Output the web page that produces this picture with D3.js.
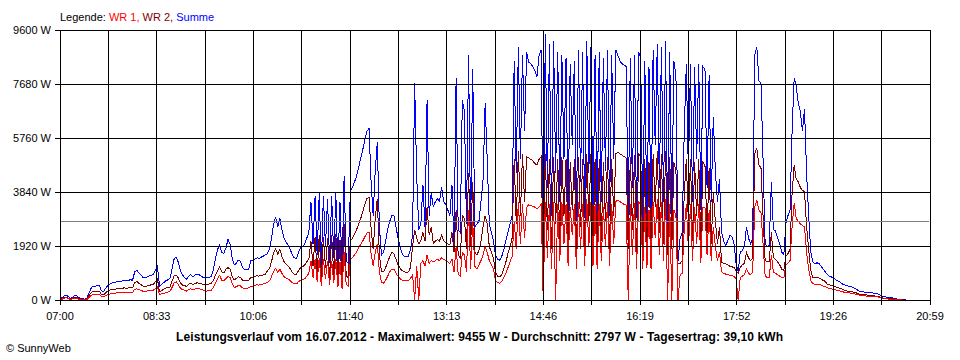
<!DOCTYPE html>
<html><head><meta charset="utf-8">
<script src="https://cdn.jsdelivr.net/npm/d3@7"></script>
<style>
html,body{margin:0;padding:0;background:#fff;}
svg{display:block;font-family:"Liberation Sans",Arial,sans-serif;}
</style></head><body>
<svg id="chart" width="960" height="360"></svg>
<script>
// ---------- DATA ----------
const startTime = "07:00";
const endTime = "20:59";
const sampleStepMinutes = 2;   // one reading every 2 minutes from 07:00

const summe = [
40,80,150,180,120,60,90,170,150,80,
60,40,30,60,250,420,500,480,520,500,
330,290,420,500,560,600,620,640,660,650,
680,700,680,700,720,700,1000,1060,960,900,
800,780,820,850,880,900,1050,1200,480,560,
620,680,720,760,1100,1450,1530,1350,1050,900,
800,730,850,900,820,880,920,900,850,800,
780,790,800,850,1100,1500,1800,1950,1700,1650,
1850,2150,2000,1500,1250,1300,1420,1380,1150,1080,
1070,1100,1400,1420,1450,1500,1480,1520,1560,1600,
1650,1800,2200,2700,2950,2600,2900,2500,2200,2050,
1950,1800,1600,1500,1480,1700,1850,1900,2000,2200,
2400,3500,2000,3700,1600,3800,1200,3700,1900,3600,
1300,3700,1500,3800,1100,3500,1000,4400,1400,1300,
3900,4000,4200,4400,4700,5050,5350,5700,6000,6100,
4200,3000,4600,5600,2600,1600,1700,2100,2500,2800,
3000,3000,2600,2200,1900,1650,1550,1540,1560,1800,
2300,7700,4400,2500,2700,4100,2600,7100,3000,3800,
3300,3500,3600,3500,4000,3500,3400,3200,3000,4100,
1950,7900,2500,2400,7100,6700,2700,8700,2500,8200,
2600,2700,2800,3500,4300,7000,5000,2700,2400,2100,
1600,1450,1420,1550,1800,2100,2400,2700,3000,8500,
4500,9000,5000,8700,6000,8800,8450,8400,8300,8150,
7950,8700,8900,1600,9450,4000,9100,3000,9200,4500,
8800,3500,8700,5000,8600,3000,8400,5500,8500,2800,
8900,4200,8800,2900,9200,4500,9000,3000,8700,2700,
8800,3500,8600,4600,8900,3000,8700,5000,8900,8700,
8500,8400,8350,8300,3000,8600,4000,8700,2900,8800,
8600,2700,8500,2600,8300,2700,8900,5500,9100,4000,
9000,3500,9200,2500,8800,3000,8500,8000,1400,2200,
2400,6000,8400,4500,8400,3500,8300,5000,8400,3200,
8300,8200,4000,8000,3500,6500,4600,3500,4300,2400,
2100,1950,2100,2300,2250,2000,1300,1000,1700,1750,
1900,2600,2200,2000,2200,8700,9000,7800,7700,5000,
2000,1900,1950,4200,2500,2450,2200,2000,1700,1600,
2700,3000,3200,6000,7900,7600,7000,6700,6000,6800,
4500,3000,1700,1350,1300,1320,1300,1200,1100,1000,
900,850,820,780,720,680,640,580,540,520,
500,480,460,420,380,330,300,290,280,280,
270,260,250,240,230,200,150,120,110,100,
90,80,60,40,30,20,15,5,0,0
];

const wr1 = [
15,30,60,80,50,25,40,70,60,30,
20,15,10,20,90,160,190,180,200,190,
130,110,160,190,210,230,240,250,250,250,
260,270,260,270,280,270,380,400,370,350,
310,300,320,330,340,350,400,460,190,220,
240,260,280,300,440,600,650,560,430,370,
350,320,370,400,370,390,410,400,380,360,
320,320,330,350,450,620,760,880,700,680,
760,830,800,600,450,470,520,500,430,410,
420,430,480,500,520,540,530,550,570,600,
620,680,830,1020,1130,980,1100,950,830,780,
750,690,620,580,570,650,700,720,760,840,
950,1400,800,1450,650,1500,500,1450,750,1400,
550,1400,600,1450,450,1350,400,1700,550,500,
1450,1500,1600,1700,1850,1980,2100,2250,2380,2420,
1650,1200,1700,2000,1000,620,600,700,850,1000,
1100,1100,950,850,760,700,680,680,690,760,
900,0,1200,0,1300,1400,1200,1600,1300,1400,
1350,1400,1450,1400,1500,1450,1400,1350,1300,1450,
1000,1900,900,850,1700,1600,1000,3200,1100,2800,
1200,1100,1250,1400,1600,1900,1700,1400,1250,1100,
700,620,600,650,800,950,1150,1350,1550,2800,
1800,3500,2000,3400,2200,3300,3380,3350,3330,3300,
3250,3300,3400,0,3500,1500,3400,1100,3500,0,
3400,1400,3500,2000,3400,1200,3300,2300,3400,1100,
3500,1800,3400,1200,3600,1900,3500,1200,3400,1100,
3400,1400,3300,1900,3500,1200,3400,2000,3500,3550,
3500,3450,3400,3380,0,3400,1600,3450,1100,3500,
3400,1100,3300,1150,3200,1100,3500,2200,3600,1600,
3500,1400,3600,0,3400,0,3200,3000,0,900,
950,2500,3400,1800,3400,1400,3300,2000,3400,1300,
3300,3300,1600,3200,1400,2600,1900,1400,1700,1000,
950,920,900,880,860,850,750,0,800,850,
900,1100,950,900,1000,3300,3550,3200,3100,2000,
850,800,800,1600,1000,950,900,850,800,780,
1250,1300,1400,2600,3450,2900,2800,2700,2650,2600,
1700,1100,700,580,560,570,560,530,500,470,
430,410,400,380,360,340,320,300,280,270,
260,250,240,220,200,180,160,150,150,140,
130,120,120,110,110,100,70,50,50,40,
30,30,20,15,10,5,0,0,0,0
];

const wr2 = [
25,50,90,100,70,35,50,100,90,50,
40,25,20,40,160,260,310,300,320,310,
200,180,260,310,350,370,380,390,410,400,
420,430,420,430,440,430,620,660,590,550,
490,480,500,520,540,550,650,740,290,340,
380,420,440,460,660,850,880,790,620,530,
520,480,560,600,560,580,610,600,580,560,
550,560,570,600,700,900,1040,1170,1000,970,
1100,1150,1100,850,720,760,820,800,700,680,
680,700,800,820,840,860,850,870,890,920,
1030,1120,1370,1680,1820,1620,1800,1550,1370,1270,
1200,1110,980,920,910,1050,1150,1180,1240,1360,
1450,2100,1200,2250,950,2300,700,2250,1150,2200,
750,2300,900,2350,650,2150,600,2700,850,800,
2100,2200,2350,2500,2700,2900,3150,3400,3600,3650,
2550,1800,2900,3600,1600,1000,1000,1150,1350,1550,
1700,1650,1450,1250,1120,1050,1000,980,1000,1150,
1900,2500,2200,2000,2100,2400,2100,3300,2300,2600,
2000,2100,2150,2100,2300,2100,2050,2000,1950,2400,
1700,3200,1600,1500,3000,2900,1800,4500,1900,4200,
1700,1600,1750,2100,2600,3000,2700,1900,1700,1500,
1000,850,820,900,1100,1350,1650,1900,2200,5000,
2700,5300,3000,5200,3500,5100,5050,5000,4950,4850,
4800,5000,5100,1600,5200,2500,5000,1800,5100,2700,
5000,2100,5100,3000,5000,1800,4900,3200,5000,1700,
5100,2600,5000,1800,5200,2800,5200,1800,5000,1700,
5000,2100,4900,2800,5100,1800,5000,3000,5200,5250,
5200,5150,5100,5050,1800,5100,2500,5150,1700,5200,
5100,1600,5000,1550,4900,1650,5200,3300,5300,2400,
5200,2000,5300,1600,5100,1800,4900,4600,1300,1300,
1400,3800,5000,2700,5000,2100,4900,3000,5000,1900,
4900,4800,2400,4700,2000,3800,2800,2000,2600,1350,
1300,1280,1250,1200,1180,1150,1050,950,1150,1250,
1300,1700,1500,1400,1500,5200,5400,4800,4700,3000,
1400,1350,1380,2400,1500,1450,1350,1250,1100,1050,
1550,1650,1800,3800,4800,4300,4200,4000,3900,3850,
2600,1800,1050,800,780,790,780,740,700,660,
560,540,520,500,470,440,420,390,360,340,
310,300,290,270,250,220,200,190,180,180,
160,150,150,140,130,120,90,70,60,60,
50,45,35,25,20,10,5,0,0,0
];

const averageW = 2797;
const yTickValues = [0, 1920, 3840, 5760, 7680, 9600];
const yTickLabels = ["0 W", "1920 W", "3840 W", "5760 W", "7680 W", "9600 W"];
const xTickLabels = ["07:00","08:33","10:06","11:40","13:13","14:46","16:19","17:52","19:26","20:59"];
const legendPrefix = "Legende: ";
const seriesNames = ["WR 1", "WR 2", "Summe"];
const titleText = "Leistungsverlauf vom 16.07.2012 - Maximalwert: 9455 W - Durchschnitt: 2797 W - Tagesertrag: 39,10 kWh";
const creditText = "\u00A9 SunnyWeb";

// ---------- LAYOUT / STYLE ----------
const seriesColors = ["#ff0000", "#800000", "#0000ff"];
const plot = {left: 60, right: 930, top: 30, bottom: 300};

const toMin = s => { const [h, m] = s.split(":").map(Number); return h * 60 + m; };
const t0 = toMin(startTime), t1 = toMin(endTime);

const svg = d3.select("#chart");
const x = d3.scaleLinear().domain([t0, t1]).range([plot.left, plot.right]);
const y = d3.scaleLinear().domain([0, 9600]).range([plot.bottom, plot.top]);

svg.append("defs").append("clipPath").attr("id", "clip")
  .append("rect").attr("x", plot.left).attr("y", plot.top - 1)
  .attr("width", plot.right - plot.left).attr("height", plot.bottom - plot.top + 2);

const line = d3.line()
  .x((d, i) => x(t0 + i * sampleStepMinutes))
  .y(d => y(d));

const dataG = svg.append("g").attr("clip-path", "url(#clip)");
[[summe, 2], [wr2, 1], [wr1, 0]].forEach(([vals, ci]) => {
  dataG.append("path").datum(vals)
    .attr("d", line)
    .attr("fill", "none")
    .attr("stroke", seriesColors[ci])
    .attr("stroke-width", 1)
    .attr("shape-rendering", "crispEdges");
});

// grid (drawn over the data, as in the reference)
const nVert = (xTickLabels.length - 1) * 2;
const vGrid = d3.range(nVert + 1).map(k => t0 + k * (t1 - t0) / nVert);
const gridG = svg.append("g").attr("stroke", "#000").attr("stroke-width", 1).attr("shape-rendering", "crispEdges");
gridG.selectAll("line.v").data(vGrid).join("line")
  .attr("x1", d => x(d)).attr("x2", d => x(d))
  .attr("y1", plot.top).attr("y2", plot.bottom + 5);
gridG.selectAll("line.h").data(yTickValues).join("line")
  .attr("class", "h")
  .attr("x1", plot.left - 5).attr("x2", plot.right)
  .attr("y1", d => y(d)).attr("y2", d => y(d));

// average line
svg.append("line")
  .attr("x1", plot.left + 1).attr("x2", plot.right - 1)
  .attr("y1", y(averageW)).attr("y2", y(averageW))
  .attr("stroke", "#808080").attr("stroke-width", 1).attr("shape-rendering", "crispEdges");

// y labels
svg.append("g").selectAll("text").data(yTickValues).join("text")
  .attr("x", plot.left - 9).attr("y", d => y(d) + 4)
  .attr("text-anchor", "end").attr("font-size", 11).attr("fill", "#000")
  .text((d, i) => yTickLabels[i]);

// x labels
svg.append("g").selectAll("text").data(xTickLabels).join("text")
  .attr("x", (d, i) => x(vGrid[i * 2])).attr("y", 320)
  .attr("text-anchor", "middle").attr("font-size", 11).attr("fill", "#000")
  .text(d => d);

// legend
const lg = svg.append("text").attr("x", plot.left).attr("y", 20.5).attr("font-size", 11);
lg.append("tspan").attr("fill", "#000").text(legendPrefix);
seriesNames.forEach((n, i) => {
  lg.append("tspan").attr("fill", seriesColors[i]).text(n + (i < seriesNames.length - 1 ? ", " : ""));
});

// title
svg.append("text").attr("x", 479.5).attr("y", 341)
  .attr("text-anchor", "middle").attr("font-size", 12).attr("font-weight", "bold")
  .attr("textLength", 607).attr("lengthAdjust", "spacing")
  .attr("fill", "#000").text(titleText);

// credit
svg.append("text").attr("x", 6).attr("y", 351.5)
  .attr("font-size", 11).attr("fill", "#000").text(creditText);
</script>
</body></html>
